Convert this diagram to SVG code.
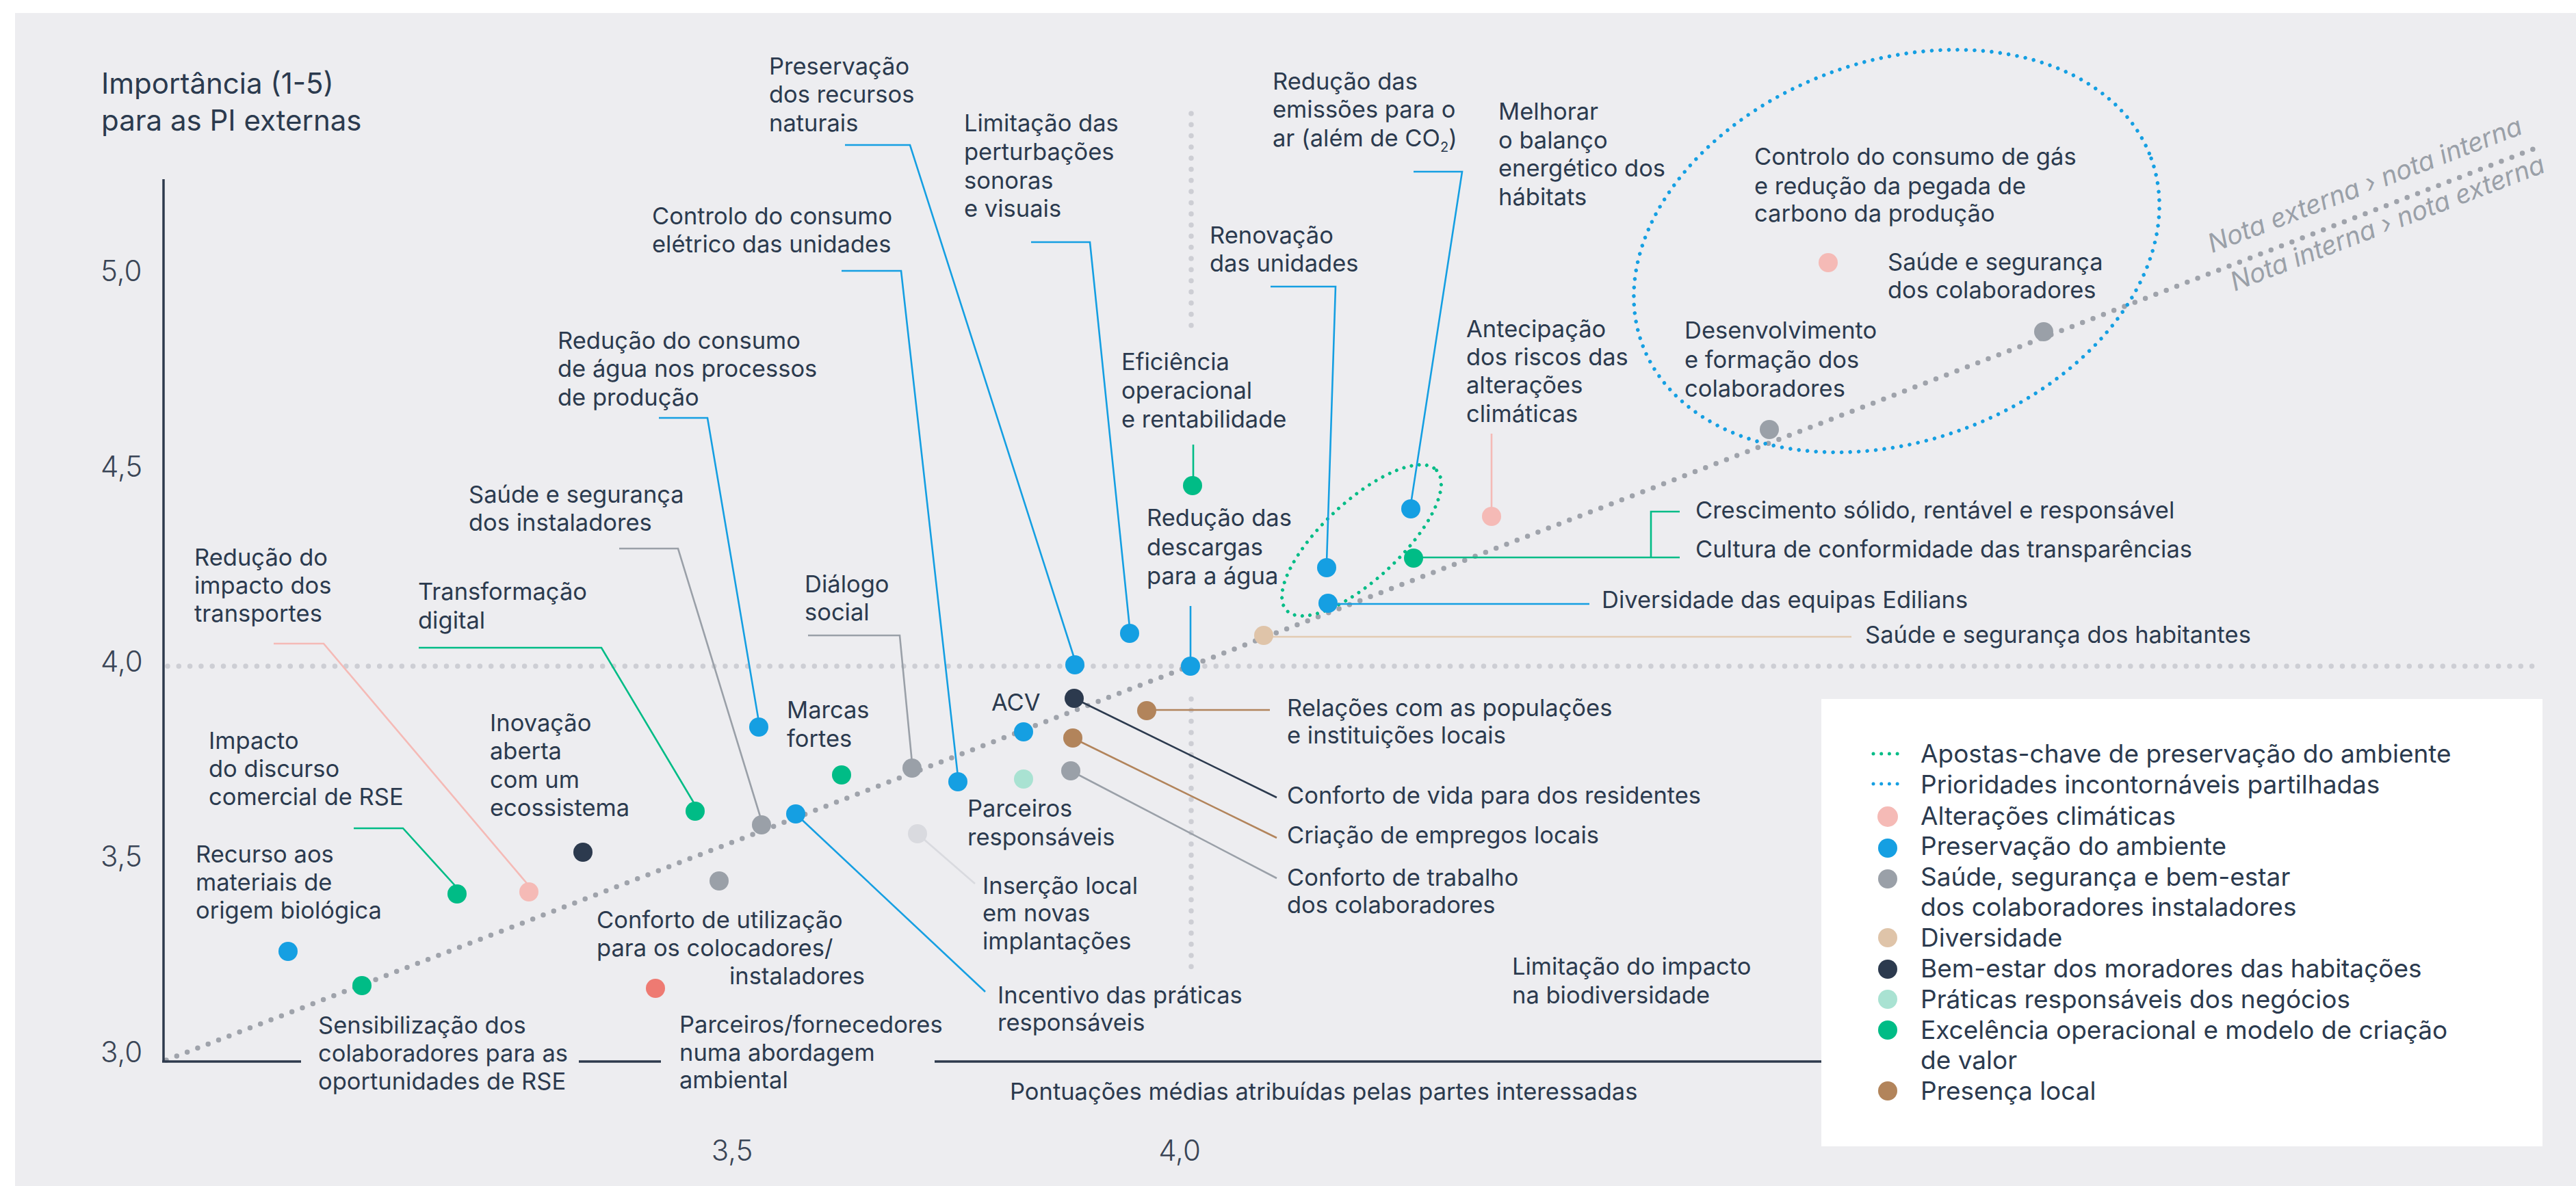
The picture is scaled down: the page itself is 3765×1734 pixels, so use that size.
<svg xmlns="http://www.w3.org/2000/svg" width="3765" height="1734" viewBox="0 0 3765 1734">
<defs>
<style>
.t{font-family:Inter,"Noto Sans","Liberation Sans",sans-serif;font-size:34.5px;fill:#2B3A4E}
.title{font-size:42px}
.ax{font-family:Inter,"Noto Sans","Liberation Sans",sans-serif;font-size:42px;font-weight:300;fill:#3A4556}
.leg{font-size:37px}
.rot{font-family:Inter,"Noto Sans","Liberation Sans",sans-serif;font-size:38px;font-style:italic;fill:#9AA0A8}
.grid{stroke:#CDCED4;stroke-width:7.5;stroke-linecap:round;stroke-dasharray:0 16.3;fill:none}
.diag{stroke:#9FA3AB;stroke-width:7.5;stroke-linecap:round;stroke-dasharray:0 16.4;fill:none}
.axis{stroke:#2E3A4D;stroke-width:3.5;fill:none}
.c{fill:none;stroke-width:2.6}
.blue{fill:#159FE2}.green{fill:#00BC86}.pink{fill:#F5BAB6}.gray{fill:#9AA0A8}.navy{fill:#2C3A4E}.brown{fill:#B2845B}.beige{fill:#DFC4A9}.mint{fill:#A9E2D2}.red{fill:#EE7A72}.lgray{fill:#D9DADF}
.sb{stroke:#159FE2}.sg{stroke:#00BC86}.sp{stroke:#F5BAB6}.sgr{stroke:#9AA0A8}.sn{stroke:#2C3A4E}.sbr{stroke:#B2845B}.sbe{stroke:#E3CBB2}.slg{stroke:#D9DADF}
</style>
</defs>
<rect x="0" y="0" width="3765" height="1734" fill="#FFFFFF"/>
<rect x="22" y="19" width="3743" height="1715" fill="#EDEDF0"/>

<g id="grid">
<line class="grid" x1="245" y1="974" x2="3702" y2="974"/>
<line class="grid" x1="1741" y1="166" x2="1741" y2="488"/>
<line class="grid" x1="1741" y1="1022" x2="1741" y2="1425"/>
<line class="diag" x1="243" y1="1550" x2="3710" y2="215"/>
<text class="rot" transform="translate(3233,370) rotate(-21)">Nota externa › nota interna</text>
<text class="rot" transform="translate(3266,426) rotate(-21)">Nota interna › nota externa</text>
</g>

<g id="axes">
<line class="axis" x1="239" y1="262" x2="239" y2="1553"/>
<line class="axis" x1="237" y1="1552" x2="440" y2="1552"/>
<line class="axis" x1="846" y1="1552" x2="966" y2="1552"/>
<line class="axis" x1="1366" y1="1552" x2="2662" y2="1552"/>
<text class="ax" x="147" y="411">5,0</text>
<text class="ax" x="147" y="697">4,5</text>
<text class="ax" x="147" y="982">4,0</text>
<text class="ax" x="147" y="1267">3,5</text>
<text class="ax" x="147" y="1553">3,0</text>
<text class="ax" x="1070" y="1697" text-anchor="middle">3,5</text>
<text class="ax" x="1724" y="1697" text-anchor="middle">4,0</text>
<text class="t title" x="148" y="137">Importância (1-5)</text>
<text class="t title" x="148" y="191">para as PI externas</text>
<text class="t" x="1476" y="1608">Pontuações médias atribuídas pelas partes interessadas</text>
</g>

<g id="highlights">
<ellipse cx="1990" cy="790" rx="150" ry="57" transform="rotate(-43 1990 790)" fill="none" stroke="#00BC86" stroke-width="5" stroke-linecap="round" stroke-dasharray="0 11.3"/>
<ellipse cx="2772" cy="367" rx="396" ry="278" transform="rotate(-20 2772 367)" fill="none" stroke="#159FE2" stroke-width="5.5" stroke-linecap="round" stroke-dasharray="0 12.5"/>
</g>

<g id="connectors">
<polyline class="c sp" points="400,941 473,941 773,1295"/>
<polyline class="c sg" points="517,1211 589,1211 668,1298"/>
<polyline class="c sg" points="612,947 879,947 1016,1177"/>
<polyline class="c sgr" points="905,802 991,802 1113,1200"/>
<polyline class="c sb" points="963,611 1034,611 1109,1055"/>
<polyline class="c sgr" points="1181,929 1315,929 1333,1115"/>
<polyline class="c sb" points="1230,396 1317,396 1400,1135"/>
<polyline class="c sb" points="1235,212 1330,212 1570,962"/>
<polyline class="c sb" points="1507,354 1593,354 1651,917"/>
<polyline class="c sb" points="1740,886 1740,974"/>
<polyline class="c sg" points="1744,650 1744,705"/>
<polyline class="c sb" points="1857,419 1952,419 1939,822"/>
<polyline class="c sb" points="2066,251 2137,251 2062,737"/>
<polyline class="c sp" points="2180,634 2180,750"/>
<polyline class="c sg" points="2066,815 2455,815"/>
<polyline class="c sg" points="2455,748 2413,748 2413,815"/>
<polyline class="c sb" points="1941,883 2323,883"/>
<polyline class="c sbe" points="1847,931 2706,931"/>
<polyline class="c sbr" points="1676,1038 1856,1038"/>
<polyline class="c sn" points="1570,1021 1866,1166"/>
<polyline class="c sbr" points="1568,1079 1866,1225"/>
<polyline class="c sgr" points="1565,1127 1866,1284"/>
<polyline class="c slg" points="1341,1219 1425,1292"/>
<polyline class="c sb" points="1163,1190 1440,1450"/>
</g>

<g id="n-recurso"><circle class="blue" cx="421" cy="1391" r="14"/><text class="t" x="286" y="1261">Recurso aos<tspan x="286" y="1302">materiais de</tspan><tspan x="286" y="1343">origem biológica</tspan></text></g>
<g id="n-sensibilizacao"><circle class="green" cx="529" cy="1441" r="14"/><text class="t" x="465" y="1511">Sensibilização dos<tspan x="465" y="1552">colaboradores para as</tspan><tspan x="465" y="1593">oportunidades de RSE</tspan></text></g>
<g id="n-impacto-discurso"><circle class="green" cx="668" cy="1307" r="14"/><text class="t" x="305" y="1095">Impacto<tspan x="305" y="1136">do discurso</tspan><tspan x="305" y="1177">comercial de RSE</tspan></text></g>
<g id="n-transportes"><circle class="pink" cx="773" cy="1304" r="14"/><text class="t" x="284" y="827">Redução do<tspan x="284" y="868">impacto dos</tspan><tspan x="284" y="909">transportes</tspan></text></g>
<g id="n-inovacao"><circle class="navy" cx="852" cy="1246" r="14"/><text class="t" x="716" y="1069">Inovação<tspan x="716" y="1110">aberta</tspan><tspan x="716" y="1152">com um</tspan><tspan x="716" y="1193">ecossistema</tspan></text></g>
<g id="n-transformacao"><circle class="green" cx="1016" cy="1186" r="14"/><text class="t" x="611" y="877">Transformação<tspan x="611" y="919">digital</tspan></text></g>
<g id="n-conforto-utilizacao"><circle class="gray" cx="1051" cy="1288" r="14"/><text class="t" x="872" y="1357">Conforto de utilização<tspan x="872" y="1398">para os colocadores/</tspan><tspan x="1066" y="1439">instaladores</tspan></text></g>
<g id="n-parceiros-fornecedores"><circle class="red" cx="958" cy="1445" r="14"/><text class="t" x="993" y="1510">Parceiros/fornecedores<tspan x="993" y="1551">numa abordagem</tspan><tspan x="993" y="1591">ambiental</tspan></text></g>
<g id="n-saude-instaladores"><circle class="gray" cx="1113" cy="1206" r="14"/><text class="t" x="685" y="735">Saúde e segurança<tspan x="685" y="776">dos instaladores</tspan></text></g>
<g id="n-agua"><circle class="blue" cx="1109" cy="1063" r="14"/><text class="t" x="815" y="510">Redução do consumo<tspan x="815" y="551">de água nos processos</tspan><tspan x="815" y="593">de produção</tspan></text></g>
<g id="n-marcas"><circle class="green" cx="1230" cy="1133" r="14"/><text class="t" x="1150" y="1050">Marcas<tspan x="1150" y="1092">fortes</tspan></text></g>
<g id="n-incentivo"><circle class="blue" cx="1163" cy="1190" r="14"/><text class="t" x="1458" y="1467">Incentivo das práticas<tspan x="1458" y="1507">responsáveis</tspan></text></g>
<g id="n-dialogo"><circle class="gray" cx="1333" cy="1123" r="14"/><text class="t" x="1176" y="866">Diálogo<tspan x="1176" y="907">social</tspan></text></g>
<g id="n-eletrico"><circle class="blue" cx="1400" cy="1143" r="14"/><text class="t" x="953" y="328">Controlo do consumo<tspan x="953" y="369">elétrico das unidades</tspan></text></g>
<g id="n-parceiros-resp"><circle class="mint" cx="1496" cy="1139" r="14"/><text class="t" x="1414" y="1194">Parceiros<tspan x="1414" y="1236">responsáveis</tspan></text></g>
<g id="n-insercao"><circle class="lgray" cx="1341" cy="1219" r="14"/><text class="t" x="1436" y="1307">Inserção local<tspan x="1436" y="1347">em novas</tspan><tspan x="1436" y="1388">implantações</tspan></text></g>
<g id="n-acv"><circle class="blue" cx="1496" cy="1070" r="14"/><text class="t" x="1449" y="1039">ACV</text></g>
<g id="n-conforto-vida"><circle class="navy" cx="1570" cy="1021" r="14"/><text class="t" x="1881" y="1175">Conforto de vida para dos residentes</text></g>
<g id="n-empregos"><circle class="brown" cx="1568" cy="1079" r="14"/><text class="t" x="1881" y="1233">Criação de empregos locais</text></g>
<g id="n-conforto-trabalho"><circle class="gray" cx="1565" cy="1127" r="14"/><text class="t" x="1881" y="1295">Conforto de trabalho<tspan x="1881" y="1335">dos colaboradores</tspan></text></g>
<g id="n-relacoes"><circle class="brown" cx="1676" cy="1039" r="14"/><text class="t" x="1881" y="1047">Relações com as populações<tspan x="1881" y="1087">e instituições locais</tspan></text></g>
<g id="n-recursos-naturais"><circle class="blue" cx="1571" cy="972" r="14"/><text class="t" x="1124" y="109">Preservação<tspan x="1124" y="150">dos recursos</tspan><tspan x="1124" y="192">naturais</tspan></text></g>
<g id="n-perturbacoes"><circle class="blue" cx="1651" cy="926" r="14"/><text class="t" x="1409" y="192">Limitação das<tspan x="1409" y="234">perturbações</tspan><tspan x="1409" y="276">sonoras</tspan><tspan x="1409" y="317">e visuais</tspan></text></g>
<g id="n-descargas"><circle class="blue" cx="1740" cy="974" r="14"/><text class="t" x="1676" y="769">Redução das<tspan x="1676" y="812">descargas</tspan><tspan x="1676" y="854">para a água</tspan></text></g>
<g id="n-habitantes"><circle class="beige" cx="1847" cy="929" r="14"/><text class="t" x="2726" y="940">Saúde e segurança dos habitantes</text></g>
<g id="n-diversidade"><circle class="blue" cx="1941" cy="882" r="14"/><text class="t" x="2341" y="889">Diversidade das equipas Edilians</text></g>
<g id="n-eficiencia"><circle class="green" cx="1743" cy="710" r="14"/><text class="t" x="1639" y="541">Eficiência<tspan x="1639" y="583">operacional</tspan><tspan x="1639" y="625">e rentabilidade</tspan></text></g>
<g id="n-renovacao"><circle class="blue" cx="1939" cy="830" r="14"/><text class="t" x="1768" y="356">Renovação<tspan x="1768" y="397">das unidades</tspan></text></g>
<g id="n-emissoes"><circle class="blue" cx="2062" cy="744" r="14"/><text class="t" x="1860" y="131">Redução das<tspan x="1860" y="172">emissões para o</tspan><tspan x="1860" y="214">ar (além de CO</tspan><tspan font-size="20" dy="8">2</tspan><tspan dy="-8">)</tspan></text></g>
<g id="n-crescimento"><circle class="green" cx="2066" cy="816" r="14"/><text class="t" x="2478" y="758">Crescimento sólido, rentável e responsável</text><text class="t" x="2478" y="815">Cultura de conformidade das transparências</text></g>
<g id="n-antecipacao"><circle class="pink" cx="2180" cy="755" r="14"/><text class="t" x="2143" y="493">Antecipação<tspan x="2143" y="534">dos riscos das</tspan><tspan x="2143" y="575">alterações</tspan><tspan x="2143" y="617">climáticas</tspan></text></g>
<g id="n-balanco"><text class="t" x="2190" y="175">Melhorar<tspan x="2190" y="217">o balanço</tspan><tspan x="2190" y="258">energético dos</tspan><tspan x="2190" y="300">hábitats</tspan></text></g>
<g id="n-biodiversidade"><text class="t" x="2210" y="1425">Limitação do impacto<tspan x="2210" y="1467">na biodiversidade</tspan></text></g>
<g id="n-gas"><circle class="gray" cx="2987" cy="485" r="14"/><text class="t" x="2564" y="241">Controlo do consumo de gás<tspan x="2564" y="284">e redução da pegada de</tspan><tspan x="2564" y="324">carbono da produção</tspan></text></g>
<g id="n-saude-colab"><circle class="pink" cx="2672" cy="384" r="14"/><text class="t" x="2759" y="395">Saúde e segurança<tspan x="2759" y="436">dos colaboradores</tspan></text></g>
<g id="n-desenvolvimento"><circle class="gray" cx="2586" cy="628" r="14"/><text class="t" x="2462" y="495">Desenvolvimento<tspan x="2462" y="538">e formação dos</tspan><tspan x="2462" y="580">colaboradores</tspan></text></g>

<g id="legend">
<rect x="2662" y="1022" width="1054" height="654" fill="#FFFFFF"/>
<line x1="2738" y1="1102" x2="2774" y2="1102" stroke="#00BC86" stroke-width="5" stroke-linecap="round" stroke-dasharray="0 11.7"/>
<line x1="2738" y1="1146" x2="2774" y2="1146" stroke="#159FE2" stroke-width="5" stroke-linecap="round" stroke-dasharray="0 11.7"/>
<circle class="pink" cx="2759" cy="1194" r="15"/>
<circle class="blue" cx="2759" cy="1240" r="14"/>
<circle class="gray" cx="2759" cy="1285" r="14"/>
<circle class="beige" cx="2759" cy="1371" r="14"/>
<circle class="navy" cx="2759" cy="1417" r="14"/>
<circle class="mint" cx="2759" cy="1461" r="14"/>
<circle class="green" cx="2759" cy="1506" r="14"/>
<circle class="brown" cx="2759" cy="1595" r="14"/>
<text class="t leg" x="2807" y="1115">Apostas-chave de preservação do ambiente</text>
<text class="t leg" x="2807" y="1160">Prioridades incontornáveis partilhadas</text>
<text class="t leg" x="2807" y="1206">Alterações climáticas</text>
<text class="t leg" x="2807" y="1250">Preservação do ambiente</text>
<text class="t leg" x="2807" y="1295">Saúde, segurança e bem-estar</text>
<text class="t leg" x="2807" y="1339">dos colaboradores instaladores</text>
<text class="t leg" x="2807" y="1384">Diversidade</text>
<text class="t leg" x="2807" y="1429">Bem-estar dos moradores das habitações</text>
<text class="t leg" x="2807" y="1474">Práticas responsáveis dos negócios</text>
<text class="t leg" x="2807" y="1519">Excelência operacional e modelo de criação</text>
<text class="t leg" x="2807" y="1563">de valor</text>
<text class="t leg" x="2807" y="1608">Presença local</text>
</g>
</svg>
